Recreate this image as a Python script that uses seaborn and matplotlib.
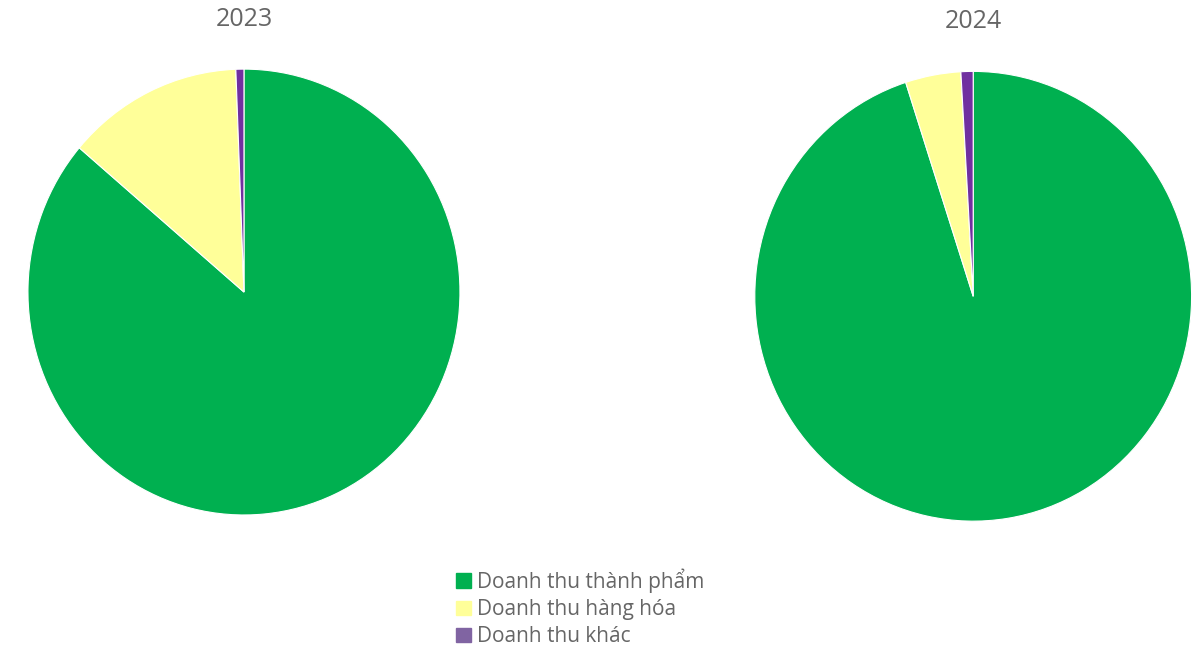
import matplotlib
matplotlib.use("Agg")
import matplotlib.pyplot as plt
import matplotlib.patches as mpatches
import seaborn as sns

sns.set_theme(style="white")
plt.rcParams['font.family'] = ['Open Sans', 'DejaVu Sans']

labels = ["Doanh thu thành phẩm", "Doanh thu hàng hóa", "Doanh thu khác"]
years = ["2023", "2024"]
share_2023 = [86.2, 13.2, 0.6]
share_2024 = [95.0, 4.1, 0.9]

colors = ["#00B050", "#FFFF99", "#7030A0"]
legend_colors = ["#00B050", "#FFFF99", "#8064A2"]

fig = plt.figure(figsize=(12, 6.49), dpi=100)
ax1 = fig.add_axes([0.0233, 0.2065, 0.36, 0.687])
ax2 = fig.add_axes([0.629, 0.197, 0.364, 0.693])

for ax, vals, yr in [(ax1, share_2023, years[0]), (ax2, share_2024, years[1])]:
    ax.pie(vals, colors=colors, startangle=90, counterclock=False,
           wedgeprops={"edgecolor": "white", "linewidth": 0.8})
    ax.set_aspect("auto")
    ax.set_xlim(-1, 1)
    ax.set_ylim(-1, 1)
    ax.axis("off")

fig.text(244 / 1200, 1 - 20 / 649, years[0], ha="center", va="center",
         fontsize=18, color="#666666")
fig.text(973 / 1200, 1 - 22 / 649, years[1], ha="center", va="center",
         fontsize=18, color="#666666")

handles = [mpatches.Patch(color=c, label=l) for c, l in zip(legend_colors, labels)]
fig.legend(handles=handles, loc="upper left", bbox_to_anchor=(448 / 1200, 1 - 560 / 649),
           frameon=False, fontsize=15, labelcolor="#666666", handlelength=0.7,
           handleheight=0.7, handletextpad=0.3, labelspacing=0.3, borderaxespad=0)

fig.savefig("out.png", dpi=100)
